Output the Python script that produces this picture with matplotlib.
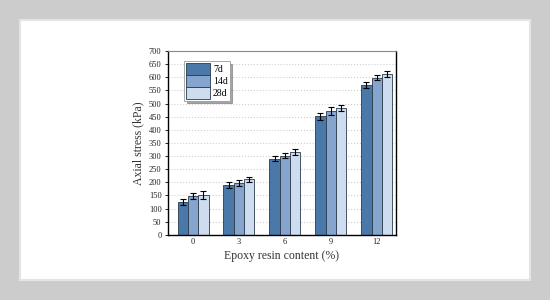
import numpy as np
import matplotlib.pyplot as plt
from matplotlib.patches import Rectangle

plt.rcParams['font.family'] = ['Liberation Serif', 'DejaVu Serif']

content = ['0', '3', '6', '9', '12']
ages = ['7d', '14d', '28d']
stress_7d = [126, 190, 290, 451, 571]
stress_14d = [149, 197, 301, 472, 599]
stress_28d = [152, 211, 316, 483, 613]
err_7d = [12, 11, 10, 12, 10]
err_14d = [12, 11, 9, 16, 8]
err_28d = [14, 10, 12, 10, 12]
colors = ['#4a78a8', '#85a5cf', '#cddcee']

fig = plt.figure(figsize=(5.5, 3), dpi=100, facecolor='#cccccc')
fig.patches.append(Rectangle((0.036, 0.067), 0.927, 0.866, transform=fig.transFigure,
                             facecolor='white', edgecolor='#e4e4e4', lw=1.5, zorder=-5))
ax = fig.add_axes([0.305, 0.217, 0.415, 0.613])
ax.set_facecolor('none')

x = np.arange(len(content))
w = 0.225
for i, (vals, errs) in enumerate([(stress_7d, err_7d), (stress_14d, err_14d), (stress_28d, err_28d)]):
    ax.bar(x + (i - 1) * w, vals, w, color=colors[i], edgecolor='#2b3a4a', linewidth=0.6,
           label=ages[i], zorder=2)
    ax.errorbar(x + (i - 1) * w, vals, yerr=errs, fmt='none', ecolor='black', elinewidth=0.8,
                capsize=2, capthick=0.8, zorder=3)

ax.set_ylim(0, 700)
ax.set_yticks(range(0, 701, 50))
ax.set_xlim(-0.55, 4.42)
ax.set_xticks(x)
ax.set_xticklabels(content)
ax.grid(axis='y', linestyle=':', color='#d0d0d0', linewidth=0.8, zorder=0)
ax.tick_params(labelsize=6, length=2.5, width=0.6, pad=2, labelcolor='#222222')
ax.tick_params(axis='x', length=0)
for s in ['left', 'bottom', 'right']:
    ax.spines[s].set_linewidth(1.0)
ax.spines['top'].set_color('#888888')

ax.set_xlabel('Epoxy resin content (%)', fontsize=8.5, labelpad=3, color='#333333')
ax.set_ylabel('Axial stress (kPa)', fontsize=8.5, labelpad=3, color='#333333')

leg = ax.legend(loc='upper left', bbox_to_anchor=(0.07, 0.945), fontsize=7, frameon=True,
                shadow=True, fancybox=False, handlelength=2.5, handleheight=1.5,
                handletextpad=0.3, borderpad=0.2, labelspacing=0.0, borderaxespad=0.0)
leg.get_frame().set_edgecolor('#999999')
leg.get_frame().set_linewidth(0.6)

fig.savefig('out.png', dpi=100, facecolor=fig.get_facecolor())
